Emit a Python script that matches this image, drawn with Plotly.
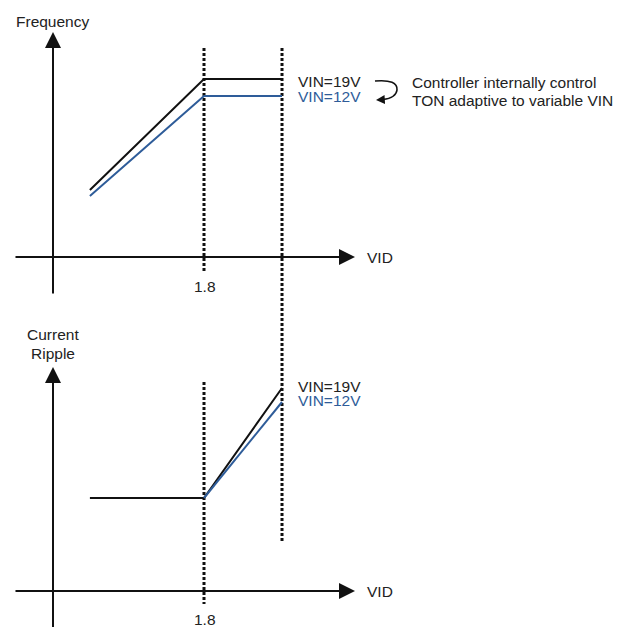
import plotly.graph_objects as go

# ---------------- data (conceptual units) ----------------
vid_knee = 1.8
vid_points = [0.44, 1.8, 2.73]          # VID sample points of the curves
freq_vin19 = [0.67, 1.78, 1.78]         # switching frequency, VIN=19V
freq_vin12 = [0.61, 1.61, 1.61]         # switching frequency, VIN=12V
ripple_vin19 = [0.93, 0.93, 2.03]       # current ripple, VIN=19V
ripple_vin12 = [None, 0.93, 1.89]       # current ripple, VIN=12V
series_labels = ["VIN=19V", "VIN=12V"]
tick_label = "1.8"

# ---------------- style ----------------
W, H = 633, 627          # browser window
OFF = 8                  # page body margin
FW, FH = W - OFF, H - OFF
BLACK = "#111111"
BLUE = "#2E5C99"
TXT = "#222222"
FONT = "Liberation Sans, Arial, sans-serif"
FS = 15.5
DOT = "3px,2px"

X_RANGE = [-0.5364, 6.914]
Y1_RANGE = [-3.70, 2.49]   # top panel (frequency)
Y2_RANGE = [-0.36, 5.83]   # bottom panel (current ripple)

AX_X = [-0.465, 3.60]      # horizontal axis extent (VID)
AX_Y1 = [-0.38, 2.25]
AX_Y2 = [-0.40, 2.24]
END_X = vid_points[-1]

fig = go.Figure()

def line(x, y, color, width, yaxis="y", dash=None):
    fig.add_trace(go.Scatter(x=x, y=y, mode="lines", yaxis=yaxis,
                             line=dict(color=color, width=width, dash=dash),
                             hoverinfo="skip", showlegend=False))

# dotted guide lines
line([vid_knee, vid_knee], [2.09, -0.15], BLACK, 3, "y", DOT)
line([vid_knee, vid_knee], [2.09, -0.13], BLACK, 3, "y2", DOT)
line([END_X, END_X], [2.09, -2.86], BLACK, 3, "y", DOT)

# frequency curves
line(vid_points, freq_vin19, BLACK, 2, "y")
line(vid_points, freq_vin12, BLUE, 2, "y")
# ripple curves
line(vid_points, ripple_vin19, BLACK, 2, "y2")
line(vid_points, ripple_vin12, BLUE, 2, "y2")

anns = []

def axis_arrow(x, y, ax, ay, yref):
    anns.append(dict(x=x, y=y, ax=ax, ay=ay, xref="x", yref=yref,
                     axref="x", ayref=yref, text="", showarrow=True,
                     arrowhead=2, arrowwidth=2, arrowsize=1.6,
                     arrowcolor=BLACK))

# top panel axes
axis_arrow(AX_X[1], 0, AX_X[0], 0, "y")
axis_arrow(0, AX_Y1[1], 0, AX_Y1[0], "y")
# bottom panel axes
axis_arrow(AX_X[1], 0, AX_X[0], 0, "y2")
axis_arrow(0, AX_Y2[1], 0, AX_Y2[0], "y2")

def text(t, xp, yp, color=TXT, xanchor="left"):
    anns.append(dict(x=(xp - OFF) / FW, y=1 - (yp - OFF) / FH,
                     xref="paper", yref="paper",
                     text=t, showarrow=False, xanchor=xanchor, yanchor="middle",
                     font=dict(family=FONT, size=FS, color=color)))

text("Frequency", 14, 21)
text("VID", 365, 257)
text(tick_label, 205, 286, xanchor="center")
text(series_labels[0], 296, 81)
text(series_labels[1], 296, 96, BLUE)
text("Controller internally control", 410, 82)
text("TON adaptive to variable VIN", 410, 101)

text("Current", 53, 334, xanchor="center")
text("Ripple", 53, 353, xanchor="center")
text(series_labels[0], 296, 386)
text(series_labels[1], 296, 400, BLUE)
text("VID", 365, 591)
text(tick_label, 205, 619, xanchor="center")

# curved arrow (decoration) in top-panel coordinates
sx = (X_RANGE[1] - X_RANGE[0]) / FW
sy = (Y1_RANGE[1] - Y1_RANGE[0]) / FH
def px(xp):
    return X_RANGE[0] + (xp - OFF) * sx
def py(yp):
    return Y1_RANGE[1] - (yp - OFF) * sy

path = (f"M {px(375)},{py(81)} Q {px(398)},{py(79)} {px(397)},{py(90)} "
        f"Q {px(396)},{py(98)} {px(383)},{py(99.5)}")
fig.add_shape(type="path", path=path, xref="x", yref="y",
              line=dict(color=BLACK, width=1.6))
anns.append(dict(x=px(376), y=py(100), xref="x", yref="y", ax=9, ay=-0.5,
                 text="", showarrow=True, arrowhead=2, arrowwidth=1.6,
                 arrowsize=1.1, arrowcolor=BLACK))

fig.update_layout(
    width=FW, height=FH,
    margin=dict(l=0, r=0, t=0, b=0),
    paper_bgcolor="white", plot_bgcolor="white",
    xaxis=dict(range=X_RANGE, visible=False, fixedrange=True),
    yaxis=dict(range=Y1_RANGE, visible=False, fixedrange=True),
    yaxis2=dict(range=Y2_RANGE, visible=False, overlaying="y", fixedrange=True),
    annotations=anns,
    showlegend=False,
)

fig.write_html("out.html")
